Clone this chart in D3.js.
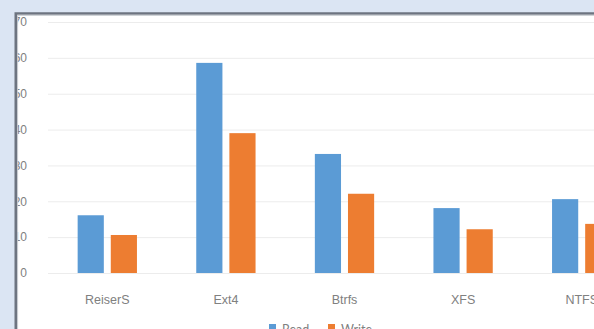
<!DOCTYPE html>
<html>
<head>
<meta charset="utf-8">
<script src="https://cdn.jsdelivr.net/npm/d3@7"></script>
<style>
  html, body { margin: 0; padding: 0; background: #dbe5f3; overflow: hidden; }
  svg { display: block; font-family: "Lato", "Liberation Sans", sans-serif; }
</style>
</head>
<body>
<div id="chart"></div>
<script>
// file systems and the two series
var categories = [ "ReiserS", "Ext4", "Btrfs", "XFS", "NTFS" ];
var seriesNames = [ "Read", "Write" ];
var readValues = [ 16.1, 58.6, 33.2, 18.1, 20.6 ];
var writeValues = [ 10.6, 39.0, 22.1, 12.2, 13.7 ];
var yTicks = [ 0, 10, 20, 30, 40, 50, 60, 70 ];
var colors = [ "#5b9bd5", "#ed7d31" ];

var width = 594,
  height = 329;

var svg = d3.select( "#chart" ).append( "svg" )
  .attr( "width", width )
  .attr( "height", height );

// white chart panel
svg.append( "rect" )
  .attr( "x", 16 ).attr( "y", 14 )
  .attr( "width", width ).attr( "height", height )
  .attr( "fill", "#ffffff" );

var x0 = d3.scaleBand()
  .domain( categories )
  .range( [ 48, 641 ] )
  .paddingInner( 0.5 )
  .paddingOuter( 0.25 );

var x1 = d3.scaleBand()
  .domain( seriesNames )
  .range( [ 0, x0.bandwidth() ] )
  .paddingInner( 0.21 );

var y = d3.scaleLinear()
  .domain( [ 0, 70 ] )
  .range( [ 273, 22 ] );

// gridlines + tick labels
var yAxis = d3.axisLeft( y )
  .tickValues( yTicks )
  .tickSize( -( width - 48 ) )
  .tickPadding( 21 );

var gy = svg.append( "g" )
  .attr( "transform", "translate(48,0)" )
  .call( yAxis );
gy.select( ".domain" ).remove();
gy.selectAll( ".tick line" ).attr( "stroke", "#ececec" ).attr( "stroke-width", 1 );
gy.selectAll( ".tick text" )
  .attr( "fill", "#808080" )
  .style( "font-size", "12px" );

var rows = categories.map( function( c, i ) {
  return { cat: c, values: [ readValues[ i ], writeValues[ i ] ] };
} );

var groups = svg.append( "g" ).selectAll( "g" )
  .data( rows )
  .enter().append( "g" )
    .attr( "transform", d => "translate(" + x0( d.cat ) + ",0)" );

groups.selectAll( "rect" )
  .data( d => d.values.map( ( v, j ) => ( { name: seriesNames[ j ], value: v, color: colors[ j ] } ) ) )
  .enter().append( "rect" )
    .attr( "x", d => x1( d.name ) )
    .attr( "y", d => y( d.value ) )
    .attr( "width", x1.bandwidth() )
    .attr( "height", d => y( 0 ) - y( d.value ) )
    .attr( "fill", d => d.color );

// category labels
var xAxis = d3.axisBottom( x0 ).tickSize( 0 ).tickPadding( 0 );
var gx = svg.append( "g" )
  .attr( "transform", "translate(0,294)" )
  .call( xAxis );
gx.select( ".domain" ).remove();
gx.selectAll( ".tick text" )
  .attr( "fill", "#808080" )
  .attr( "dy", "0.8em" )
  .style( "font-size", "12.5px" );

// legend (mostly below the crop)
var legend = svg.append( "g" ).selectAll( "g" )
  .data( seriesNames )
  .enter().append( "g" )
    .attr( "transform", ( d, i ) => "translate(" + ( 269 + i * 59 ) + ",324)" );
legend.append( "rect" )
  .attr( "width", 7 ).attr( "height", 7 )
  .attr( "fill", ( d, i ) => colors[ i ] );
legend.append( "text" )
  .attr( "x", 13 ).attr( "y", 10 )
  .attr( "fill", "#808080" )
  .style( "font-size", "12.5px" )
  .text( d => d );

// surrounding background and frame edge cover the clipped left labels
svg.append( "rect" ).attr( "x", 0 ).attr( "y", 0 ).attr( "width", 15 ).attr( "height", height ).attr( "fill", "#dbe5f3" );
svg.append( "rect" ).attr( "x", 0 ).attr( "y", 0 ).attr( "width", width ).attr( "height", 13 ).attr( "fill", "#dbe5f3" );
svg.append( "path" )
  .attr( "d", "M15.8," + height + "V13.5H" + width )
  .attr( "fill", "none" )
  .attr( "stroke", "#6d7480" )
  .attr( "stroke-width", 2.6 );
svg.append( "path" )
  .attr( "d", "M17.6," + height + "V15.3H" + width )
  .attr( "fill", "none" )
  .attr( "stroke", "#c4c8ce" )
  .attr( "stroke-width", 1 );
</script>
</body>
</html>
